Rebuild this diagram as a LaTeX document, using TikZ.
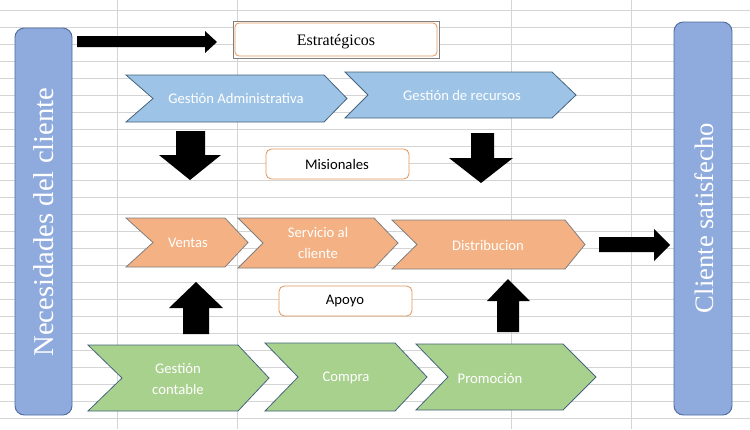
\documentclass[tikz,border=0pt]{standalone}
\usepackage{fontspec}
\setmainfont{Liberation Serif}
\newfontfamily\calib{Carlito}
\usepackage{tikz}

\definecolor{gridgray}{RGB}{212,212,212}
\definecolor{boxblue}{RGB}{143,170,220}
\definecolor{boxedge}{RGB}{80,110,160}
\definecolor{chevblue}{RGB}{157,195,230}
\definecolor{chevorange}{RGB}{244,177,131}
\definecolor{chevgreen}{RGB}{169,209,142}
\definecolor{slate}{RGB}{70,100,125}
\definecolor{tagorange}{RGB}{225,150,90}

% chevron: left, right, top, bottom, notch depth, tip depth
\newcommand{\chevron}[7]{%
  \draw[#7] (#1,#3) -- (#2,#3) -- ({#2+#6},{(#3+#4)/2}) -- (#2,#4) -- (#1,#4)
    -- ({#1+#5},{(#3+#4)/2}) -- cycle;}

\begin{document}
\begin{tikzpicture}[x=0.75pt,y=-0.75pt,
    blue chev/.style={fill=chevblue, draw=slate, line width=0.6pt},
    orange chev/.style={fill=chevorange, draw=gray, line width=0.6pt},
    green chev/.style={fill=chevgreen, draw=slate, line width=0.6pt},
    chevtext/.style={text=white, font=\calib\fontsize{11}{15.5}\selectfont, align=center},
    tagbox/.style={fill=white, draw=tagorange, rounded corners=4pt, line width=0.6pt},
    tagtext/.style={font=\calib\fontsize{11}{13}\selectfont},
    sidebox/.style={fill=boxblue, draw=boxedge, rounded corners=7pt, line width=0.7pt},
    sidetext/.style={text=white, rotate=90}]
  \useasboundingbox (0,0) rectangle (750,429);
  \fill[white] (0,0) rectangle (750,429);

  % hoja de calculo
  \foreach \y in {10,27,...,418}
    \draw[gridgray, line width=0.75pt] (0,\y) -- (750,\y);
  \foreach \x in {117,237,511,631}
    \draw[gridgray, line width=0.75pt] (\x,0) -- (\x,429);

  % cajas laterales
  \draw[sidebox] (15,28) rectangle (72,415);
  \node[sidetext, font=\fontsize{21.5}{24}\selectfont] (nec) at (44,222) {Necesidades del cliente};
  \draw[sidebox] (674,22) rectangle (732,415);
  \node[sidetext, font=\fontsize{20}{24}\selectfont] (cli) at (704,218) {Cliente satisfecho};

  % etiquetas
  \draw[fill=white, draw=gray, line width=0.6pt] (233,21) rectangle (439,58);
  \draw[tagbox, rounded corners=3pt] (235,23) rectangle (437,56);
  \node[font=\fontsize{12}{14}\selectfont] (estr) at (336,42) {Estratégicos};
  \draw[tagbox] (266,149) rectangle (409,179);
  \node[tagtext] (misi) at (337,164) {Misionales};
  \draw[tagbox] (279,286) rectangle (412,316);
  \node[tagtext] (apoyo) at (345,301) {Apoyo};

  % estrategicos
  \chevron{126}{324}{75}{122}{27}{23}{blue chev}
  \chevron{345}{552}{72}{118}{23}{24}{blue chev}
  \node[chevtext] (gadm) at (236,98) {Gestión Administrativa};
  \node[chevtext] (grec) at (462,95) {Gestión de recursos};

  % misionales
  \chevron{126}{225}{218}{267}{27}{23}{orange chev}
  \chevron{238}{374}{218}{268}{25}{24}{orange chev}
  \chevron{392}{565}{220}{269}{25}{20}{orange chev}
  \node[chevtext] (ventas) at (188,243) {Ventas};
  \node[chevtext] (serv) at (318,243) {Servicio al\\cliente};
  \node[chevtext] (dist) at (488,245) {Distribucion};

  % apoyo
  \chevron{88}{238}{345}{411}{34}{31}{green chev}
  \chevron{265}{395}{343}{411}{33}{32}{green chev}
  \chevron{416}{563}{344}{410}{32}{33}{green chev}
  \node[chevtext] (gcont) at (178,379) {Gestión\\contable};
  \node[chevtext] (compra) at (346,378) {Compra};
  \node[chevtext] (promo) at (490,378) {Promoción};

  % flechas
  \fill (77,36) -- (205,36) -- (205,31) -- (217,42) -- (205,53) -- (205,47) -- (77,47) -- cycle;
  \fill (176,131) -- (205,131) -- (205,155) -- (221,155) -- (190,180) -- (159,155) -- (176,155) -- cycle;
  \fill (471,133) -- (494,133) -- (494,158) -- (513,158) -- (481,183) -- (449,158) -- (471,158) -- cycle;
  \fill (183,334) -- (209,334) -- (209,308) -- (223,308) -- (196,282) -- (169,308) -- (183,308) -- cycle;
  \fill (497,332) -- (519,332) -- (519,301) -- (530,301) -- (508,279) -- (487,301) -- (497,301) -- cycle;
  \fill (599,237) -- (654,237) -- (654,229) -- (670,245) -- (654,261) -- (654,252) -- (599,252) -- cycle;
\end{tikzpicture}
\end{document}
